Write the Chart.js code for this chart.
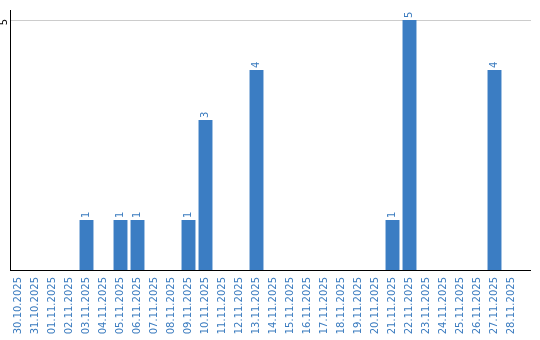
<!DOCTYPE html>
<html><head><meta charset="utf-8">
<script src="https://cdn.jsdelivr.net/npm/chart.js@4/dist/chart.umd.min.js"></script>
<style>html,body{margin:0;padding:0;background:#fff}#wrap{width:540px;height:340px}</style>
</head><body><div id="wrap"><canvas id="c" width="540" height="340"></canvas></div>
<script>
const categories = ["30.10.2025","31.10.2025","01.11.2025","02.11.2025","03.11.2025","04.11.2025","05.11.2025","06.11.2025","07.11.2025","08.11.2025","09.11.2025","10.11.2025","11.11.2025","12.11.2025","13.11.2025","14.11.2025","15.11.2025","16.11.2025","17.11.2025","18.11.2025","19.11.2025","20.11.2025","21.11.2025","22.11.2025","23.11.2025","24.11.2025","25.11.2025","26.11.2025","27.11.2025","28.11.2025"];
const values = [0,0,0,0,1,0,1,1,0,0,1,3,0,0,4,0,0,0,0,0,0,0,1,5,0,0,0,0,4,0];
const yTicks = [5];
const yMax = 5.2;

const BLUE = '#3b7dc3';
const TEXT = '#3a7bbf';
const FONT = '10px "DejaVu Sans"';

const extras = {
  id: 'extras',
  afterDraw(chart) {
    const ctx = chart.ctx, ca = chart.chartArea;
    const ys = chart.scales.y;
    ctx.save();
    ctx.strokeStyle = '#cccccc'; ctx.lineWidth = 1;
    yTicks.forEach(v => {
      const py = Math.round(ys.getPixelForValue(v)) + 0.5;
      ctx.beginPath(); ctx.moveTo(ca.right, py); ctx.lineTo(ca.right + 11, py); ctx.stroke();
    });
    ctx.strokeStyle = '#000';
    ctx.beginPath(); ctx.moveTo(ca.right - 1, ca.bottom + 0.5); ctx.lineTo(ca.right + 11, ca.bottom + 0.5); ctx.stroke();
    ctx.font = FONT; ctx.fillStyle = '#000';
    ctx.textAlign = 'center'; ctx.textBaseline = 'middle';
    yTicks.forEach(v => {
      const py = ys.getPixelForValue(v);
      ctx.save(); ctx.translate(4, py + 2); ctx.rotate(-Math.PI/2);
      ctx.fillText(String(v), 0, 0); ctx.restore();
    });
    ctx.fillStyle = TEXT; ctx.textAlign = 'left';
    const meta = chart.getDatasetMeta(0);
    meta.data.forEach((bar, i) => {
      const v = values[i];
      if (!v) return;
      ctx.save(); ctx.translate(bar.x, bar.y - 2); ctx.rotate(-Math.PI/2);
      ctx.fillText(String(v), 0, 0); ctx.restore();
    });
    ctx.restore();
  }
};

new Chart(document.getElementById('c'), {
  type: 'bar',
  data: { labels: categories, datasets: [{ data: values, backgroundColor: BLUE, borderWidth: 0, barPercentage: 0.82, categoryPercentage: 1 }] },
  options: {
    responsive: false, animation: false, devicePixelRatio: 1,
    layout: { padding: { top: 10, right: 20, left: 0, bottom: 0 } },
    plugins: { legend: { display: false }, tooltip: { enabled: false } },
    scales: {
      x: {
        grid: { display: false, drawTicks: false },
        border: { display: true, color: '#000', width: 1 },
        ticks: { color: TEXT, font: { family: 'DejaVu Sans', size: 10 }, minRotation: 90, maxRotation: 90, autoSkip: false, padding: 7 },
        afterFit(s) { s.height = 70; }
      },
      y: {
        min: 0, max: yMax,
        afterBuildTicks(s) { s.ticks = yTicks.map(v => ({ value: v })); },
        grid: { color: '#cccccc', drawTicks: false },
        border: { display: true, color: '#000', width: 1 },
        ticks: { display: false },
        afterFit(s) { s.width = 10; }
      }
    }
  },
  plugins: [extras]
});
</script></body></html>
